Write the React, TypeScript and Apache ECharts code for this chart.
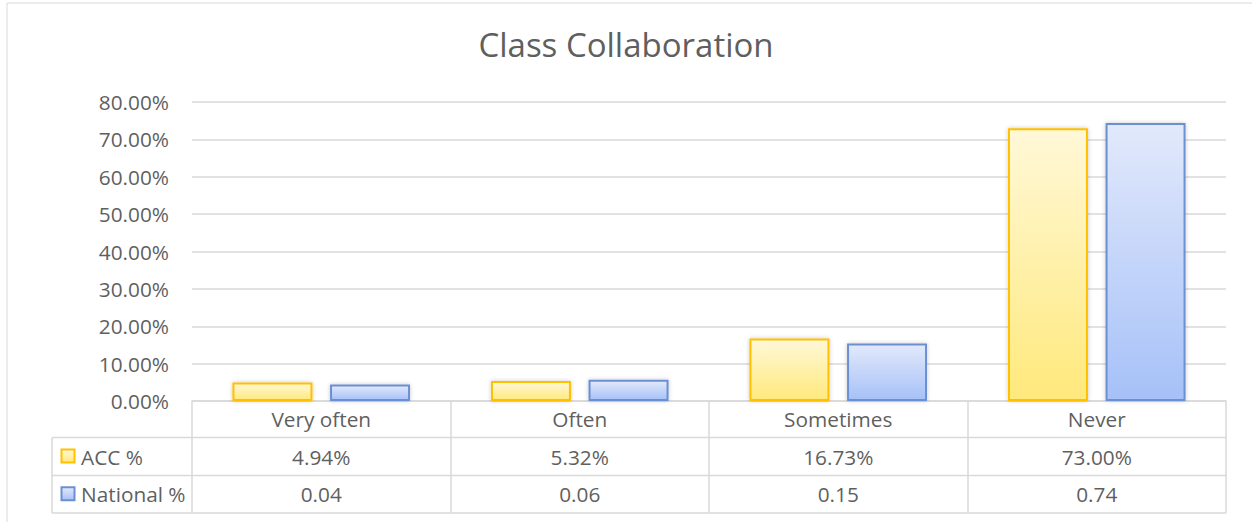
import React, { useEffect, useRef } from "react";
import * as echarts from "echarts";

const title = "Class Collaboration";
const categories = ["Very often", "Often", "Sometimes", "Never"];
const seriesNames = ["ACC %", "National %"];
const accValues = [0.0494, 0.0532, 0.1673, 0.73];
const nationalValues = [0.044, 0.057, 0.154, 0.744];
const yTicks = { min: 0, max: 0.8, interval: 0.1 };

const FONT = "'Open Sans', 'Noto Sans', sans-serif";
const TEXT = "#5f5f5f";
const LINE = "#d9d9d9";

const GRID_LEFT = 192;
const GRID_RIGHT_X = 1226;
const GRID_TOP = 102;
const BASE_Y = 401;
const ROW1 = 437.5;
const ROW2 = 475.5;
const ROW3 = 513;
const TABLE_LEFT = 52;
const FS = 20.8;

const accFill = new echarts.graphic.LinearGradient(0, 0, 0, 1, [
  { offset: 0, color: "#fff8d8" },
  { offset: 1, color: "#ffe97c" },
]);
const natFill = new echarts.graphic.LinearGradient(0, 0, 0, 1, [
  { offset: 0, color: "#e2e9fb" },
  { offset: 1, color: "#a6c1f8" },
]);
const ACC_BORDER = "#ffc000";
const NAT_BORDER = "#6b8fd2";

const fmtAcc = (v: number) => (v * 100).toFixed(2) + "%";
const fmtNat = (v: number) => v.toFixed(2);

export default function App() {
  const ref = useRef<HTMLDivElement>(null);
  useEffect(() => {
    if (!ref.current) return;
    const chart = echarts.init(ref.current, undefined, { renderer: "svg" });
    const labelBase = { fontFamily: FONT, fontSize: FS, color: TEXT };
    const hLine = (y: number, x1: number) => ({
      type: "line",
      shape: { x1, y1: y, x2: GRID_RIGHT_X, y2: y },
      style: { stroke: LINE, lineWidth: 1.5 },
      silent: true,
    });
    const rowKeys = [
      { y: (ROW1 + ROW2) / 2, fill: accFill, stroke: ACC_BORDER, name: seriesNames[0] },
      { y: (ROW2 + ROW3) / 2, fill: natFill, stroke: NAT_BORDER, name: seriesNames[1] },
    ];
    const graphic: any[] = [
      {
        type: "rect",
        shape: { x: 7, y: 3, width: 1400, height: 700 },
        style: { fill: "none", stroke: LINE, lineWidth: 1 },
        silent: true,
      },
      hLine(ROW1, TABLE_LEFT),
      hLine(ROW2, TABLE_LEFT),
      hLine(ROW3, TABLE_LEFT),
      {
        type: "line",
        shape: { x1: TABLE_LEFT, y1: ROW1, x2: TABLE_LEFT, y2: ROW3 },
        style: { stroke: LINE, lineWidth: 1.5 },
        silent: true,
      },
    ];
    rowKeys.forEach((k) => {
      graphic.push({
        type: "rect",
        shape: { x: 61.5, y: k.y - 7, width: 13, height: 13 },
        style: { fill: k.fill, stroke: k.stroke, lineWidth: 2 },
        silent: true,
      });
      graphic.push({
        type: "text",
        x: 81,
        y: k.y,
        style: {
          text: k.name,
          font: `${FS}px ${FONT}`,
          fill: TEXT,
          verticalAlign: "middle",
          align: "left",
        },
        silent: true,
      });
    });

    const barStyle = (fill: any, border: string) => ({
      color: fill,
      borderColor: border,
      borderWidth: 2,
      shadowBlur: 4,
      shadowColor: "rgba(0,0,0,0.22)",
    });

    chart.setOption({
      animation: false,
      backgroundColor: "#ffffff",
      title: {
        text: title,
        left: "center",
        top: 23,
        textStyle: { fontFamily: FONT, fontSize: 33, fontWeight: "normal", color: TEXT },
      },
      grid: {
        left: GRID_LEFT,
        right: 1252 - GRID_RIGHT_X,
        top: GRID_TOP,
        bottom: 522 - BASE_Y,
        containLabel: false,
      },
      xAxis: [
        {
          type: "category",
          data: categories,
          position: "bottom",
          axisLine: { show: true, lineStyle: { color: LINE, width: 1.5 } },
          axisTick: { show: true, length: ROW3 - BASE_Y, lineStyle: { color: LINE, width: 1.5 } },
          axisLabel: { ...labelBase, interval: 0, margin: 18, verticalAlign: "middle" },
        },
        {
          type: "category",
          data: categories,
          position: "bottom",
          offset: ROW1 - BASE_Y,
          axisLine: { show: false },
          axisTick: { show: false },
          axisLabel: {
            ...labelBase,
            interval: 0,
            margin: (ROW2 - ROW1) / 2,
            verticalAlign: "middle",
            formatter: (_v: string, i: number) => fmtAcc(accValues[i]),
          },
        },
        {
          type: "category",
          data: categories,
          position: "bottom",
          offset: ROW2 - BASE_Y,
          axisLine: { show: false },
          axisTick: { show: false },
          axisLabel: {
            ...labelBase,
            interval: 0,
            margin: (ROW3 - ROW2) / 2,
            verticalAlign: "middle",
            formatter: (_v: string, i: number) => fmtNat(nationalValues[i]),
          },
        },
      ],
      yAxis: {
        type: "value",
        min: yTicks.min,
        max: yTicks.max,
        interval: yTicks.interval,
        axisLine: { show: false },
        axisTick: { show: false },
        splitLine: { lineStyle: { color: LINE, width: 1.5 } },
        axisLabel: {
          ...labelBase,
          margin: 23,
          formatter: (v: number) => (v * 100).toFixed(2) + "%",
        },
      },
      series: [
        {
          name: seriesNames[0],
          type: "bar",
          data: accValues,
          barWidth: 80,
          barGap: "22%",
          itemStyle: barStyle(accFill, ACC_BORDER),
        },
        {
          name: seriesNames[1],
          type: "bar",
          data: nationalValues,
          barWidth: 80,
          barGap: "22%",
          itemStyle: barStyle(natFill, NAT_BORDER),
        },
      ],
      graphic,
    });
    return () => chart.dispose();
  }, []);
  return (
    <div
      ref={ref}
      style={{ position: "absolute", left: 0, top: 0, width: 1252, height: 522 }}
    />
  );
}
